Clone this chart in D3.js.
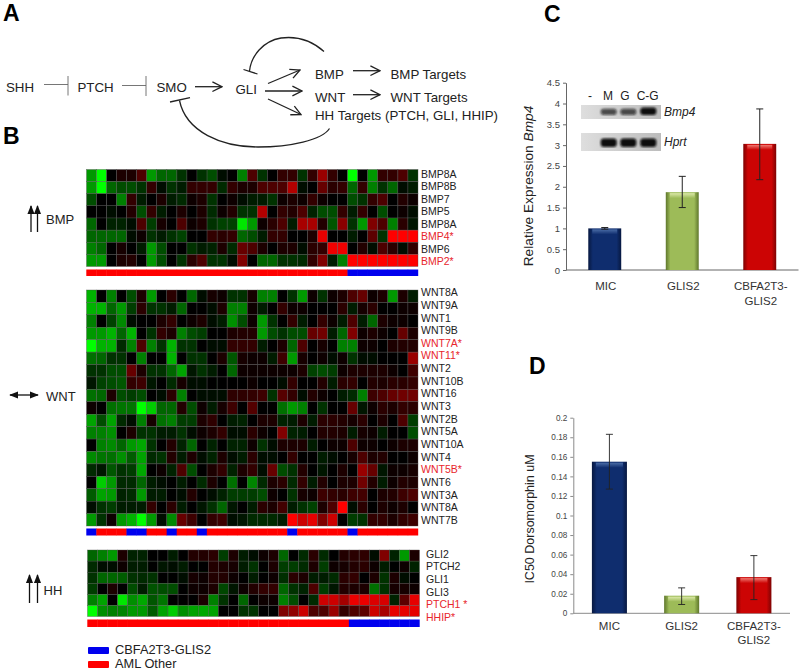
<!DOCTYPE html>
<html>
<head>
<meta charset="utf-8">
<script src="https://cdnjs.cloudflare.com/ajax/libs/d3/7.8.5/d3.min.js"></script>
<style>
  html, body { margin: 0; padding: 0; background: #fff; }
  svg { display: block; }
  text { font-family: "Liberation Sans", Arial, sans-serif; }
</style>
</head>
<body>
<svg id="fig" width="800" height="671"></svg>
<script>
// heatmap values, green is negative and red is positive
const bmpGenes = ["BMP8A","BMP8B","BMP7","BMP5","BMP8A","BMP4*","BMP6","BMP2*"]
const bmpValues = [
  [-3,-5,0,.5,.5,1.5,-3,-2,-2,-1,0,-1,-1.5,-.3,0,-2.5,1.5,-1,0,1,1,-1,1,3,1,0,-5,0,-3,1,1,1.5,-1],
  [-3,-5,-2,-1.5,-1.5,-1,1,-.3,-1,-.5,1,1,1,-.8,1,.5,.5,1.5,1.5,1.5,3.5,-.3,0,2,.8,1,-2,1,-2.5,-1,-2,-.2,-.5],
  [-1.5,0,0,-2.5,1,-.5,0,.5,-.5,-.8,.3,.5,-1,0,.3,-.3,-.5,-.5,-1,.3,.5,.3,1,.3,0,0,-1.5,-1,1,1.5,0,.7,.3],
  [0,0,-.2,0,.7,-1.5,1,-.5,0,.5,0,.5,-.8,.2,.7,-1,-1,3.5,0,1,.7,1.5,-.7,-1.5,-1.5,1,-.5,1,0,-1.5,0,.2,-.3],
  [-2,0,-.7,-.7,-.3,1.5,-1.2,.4,0,1.5,.2,.5,-1,-1.3,-1.3,-4.5,-3,.2,.8,1.5,-.5,3.3,3.3,.7,-1.7,2.7,-1,-3,2.5,1.5,-2.5,.8,-.4],
  [-2,-2,-2,-2,-.3,.2,-1,-.5,-1,-1.3,0,0,1,.8,1,-2,-1.5,-.5,1,1,0,0,.5,4.5,0,0,-.5,0,1.8,-1,5,5,5],
  [-2.5,-2,0,.4,0,-.5,-3,-1.5,0,0,-1,-.5,-.7,.5,-.8,2,1.5,.5,0,.5,.5,-.2,.8,1,4.7,4.7,0,.7,-.3,1.5,.8,-.2,1],
  [-3,-3,0,.5,.7,0,-3,-1.5,0,-1,.8,1.5,-1,-1,-.3,2.5,0,-2,-2,-1,-1,-.8,1,2.5,-.5,-2.5,5,5,5,5,5,5,5]
]
const wntGenes = ["WNT8A","WNT9A","WNT1","WNT9B","WNT7A*","WNT11*","WNT2","WNT10B","WNT16","WNT3","WNT2B","WNT5A","WNT10A","WNT4","WNT5B*","WNT6","WNT3A","WNT8A","WNT7B"]
const wntValues = [
  [-3.5,0,-2.5,0,-1.5,.5,-3,0,.8,0,-2,-.3,.4,.2,-1,-1,.4,-2.5,-2.5,0,-1,-3,.2,-1,.2,.6,1.5,2,.2,.5,-3,.5,-.5],
  [-3.5,-3.5,-2,-3,-1.2,.8,-1,-1,-.5,-2,0,0,-.3,.5,-2.5,-2.5,.3,-.5,0,1,.2,.3,0,0,0,.8,-.5,.4,.8,0,0,.3,.3],
  [-2.5,0,-1.3,-2.7,-.3,0,0,.5,1,0,.3,.5,-.3,-.5,-2.8,-1.5,.3,-3,-1,0,1,-.5,0,1,.2,-.5,1.5,-.5,-2,.6,.2,.2,0],
  [-3,-3,-3.5,-2,-3.5,0,-1,1,.5,-2.5,-1.5,-1.2,0,0,.5,.7,.7,-3,-1.5,-1,-1.5,-1.5,2,2.2,-.5,-2,2.5,.3,.6,.3,0,2,.5],
  [-5,-3.5,-3.5,-.8,-2.5,1.5,-2.5,-1,-3.5,-1,-1,0,-.2,-.2,1,1,1,-.6,0,.5,-2,1.5,0,.4,0,-2.5,-2.5,.2,.3,0,.6,.7,.7],
  [-2.2,-2,-1,-1,0,-2.5,0,0,-3.5,0,-1,-1,0,.6,-1.7,.4,.2,.2,-.5,1.2,-3,.4,0,.2,-.3,.2,-1,-.2,-.2,0,0,0,3],
  [-1,-1,-1.5,-1.5,2,.6,-1,-1,-2,-3.2,-.4,-1,-.5,0,-2,.3,.3,.2,.3,.3,.2,.5,-1.3,-1.5,-1.2,.2,.5,.5,.5,.5,.3,0,1.2],
  [-.4,-1.3,-1.5,-1.7,1,1.2,-.4,0,-.8,.4,-.2,-.2,-.1,0,.1,.1,.3,.1,0,-.3,1,0,.1,.7,-.5,.8,1,0,.7,.6,.8,.8,1],
  [-2.2,-2,.5,-1.5,-1.2,-1.5,0,-.3,.8,-2.5,0,-.3,-.3,-.2,.9,.9,1,1.2,-1,1.7,1,-.3,.7,.3,0,-.5,-.8,-2.5,1.2,1.5,2,2.2,2.2],
  [.2,0,-2.2,-2.3,-2.3,-5,-4,-2,-2,.7,-1.5,.3,-.5,.4,1.2,0,1.6,0,0,-2.2,-3,-2.5,0,-1,0,0,2,-.4,.3,.8,.5,1,.8],
  [-3.2,-1.5,-3.2,-.8,-.2,-2.5,.4,-2.2,-2.5,-1.2,-1.2,.5,.9,0,-.5,-.7,0,.5,.5,-.7,-.5,.5,-.5,.8,.8,.7,.4,.8,0,.6,.1,1.5,-1.2],
  [-2.5,-2.5,-2.8,0,.5,-1,-1,-.5,-.5,-1,-.2,.3,.5,1,-.3,-.3,.8,.2,0,2.5,-.7,-.5,0,.7,.7,.5,-.5,.4,.2,-.5,.1,0,-1.5],
  [0,-2.5,-2.7,-2,-3,-3.3,-1,0,.7,-.7,-2,0,-.7,0,-.7,-.7,.3,-1,-.3,.5,.5,.5,-.5,0,.2,.3,1.5,.3,.2,0,.2,.5,.5],
  [-2.7,-2.3,-2.2,-2.8,-1.8,-3.2,-.8,-1,.7,-.5,.5,-.3,-.7,.5,-.3,-.5,.8,-.2,-.2,-.1,1,0,0,-.5,-.2,0,.4,1.5,.5,.7,0,0,.3],
  [-.8,-.4,-1.7,-1,-1.2,-3.3,0,.2,-.7,1.5,-1.5,0,.6,1,-.7,.5,1,-.3,2,-1.5,-1,.7,0,-.4,0,.6,0,3,2,-.4,.2,.3,.4],
  [0,-4,-3,-.8,-.8,-2,-.5,-.3,0,-.5,0,-.8,.5,0,-2.2,0,-2.6,-.8,.5,.8,-.8,1,-.5,.7,.1,.5,.6,2.2,.7,-.5,.3,.7,.6],
  [-1.8,-3.2,-3,-.7,-.8,-3,-.5,-.5,0,-.3,.7,0,-.3,-.7,-1.2,-1.2,-1.2,-1.5,.3,0,-1,.4,.2,1.2,1,.8,1.2,1.3,0,.6,.7,1.2,1.5],
  [-.3,-1,-1.2,-.6,-.5,-.6,1,0,.8,-.6,0,-.4,-1,-2,-.4,0,-.6,.8,.5,1.3,-.5,-1,-1.3,.5,1.5,5,-.3,.8,0,.5,.3,.5,.1],
  [-3,-1,.3,-3,-3.5,-5,-3,-.2,-2.7,2,1.2,0,1,1.2,-.2,-.4,-.8,-.8,-.8,-.5,5,4,4.5,2.5,4,0,-1.2,-1,1,1,.6,1,1.2]
]
const hhGenes = ["GLI2","PTCH2","GLI1","GLI3","PTCH1 *","HHIP*"]
const hhValues = [
  [-2,-2.5,-3,.5,-.7,-.7,0,0,-.6,0,.7,.7,.8,-1.2,.6,-.6,-.2,.2,.5,-2,0,-.8,.8,-.8,0,.7,.8,.9,-.2,2.5,-.7,-3,.6],
  [-.8,-.3,-.2,.2,-.6,-.6,-.1,-.4,-.3,-.5,-.1,-.1,.7,.6,.4,-.6,-1,-.1,.5,-1.2,-1.2,-.8,.6,-1.2,.3,.4,.7,.8,.3,-.6,-.1,.3,-.7],
  [-1,-2,-2,-1.8,-1,-.8,-1,0,-.1,-.3,.4,.2,.7,.7,.3,.1,-.6,-.1,.2,-.9,.8,.5,-.6,-.5,-.8,.8,1,-.1,.6,-1,.6,-.2,0],
  [-1.2,0,.5,0,-1.5,-.6,-1.6,-1.5,-1.5,-.1,.3,.2,.6,-1.4,-.4,.2,.7,1,1,-2,-1,-.7,1.5,-1.2,-.4,.7,.6,.6,-2.2,-1,.4,.4,.3],
  [-2.5,-3.2,0,-4.5,-2.8,-3.3,-1.7,-2.3,0,.1,.1,.5,-2.5,-1,0,-2,.1,.3,.3,-2.5,-1.5,0,-.8,4,4,3.2,4.6,4.6,4.3,4.2,-.7,1.8,4.5],
  [-5,-2.8,-2.5,-2.6,-3,-3,-1.8,-3.2,-4,-2.8,-3.2,-3.3,-3.2,0,0,-1,-1,0,0,2.5,2.8,4,1.5,1.5,3,1,1.5,1.8,4,3.3,4.5,4.5,4.5]
]
// sample groups under each heatmap, 1 is CBFA2T3-GLIS2 and 0 is AML Other
const bmpGroups = [0,0,0,0,0,0,0,0,0,0,0,0,0,0,0,0,0,0,0,0,0,0,0,0,0,0,1,1,1,1,1,1,1]
const wntGroups = [1,0,0,0,1,1,0,0,1,0,0,1,0,0,0,0,0,0,0,0,1,0,0,0,0,0,1,0,0,0,0,0,0]
const hhGroups = [0,0,0,0,0,0,0,0,0,0,0,0,0,0,0,0,0,0,0,0,0,0,0,0,0,0,1,1,1,1,1,1,1]
const legendNames = ["CBFA2T3-GLIS2","AML Other"]

// bar panels
const barCats = ["MIC","GLIS2","CBFA2T3-GLIS2"]
const bmp4Expr = [1,1.87,3.03]
const bmp4Low = [.98,1.5,2.17]
const bmp4High = [1.02,2.25,3.87]
const bmp4Ticks = [0,.5,1,1.5,2,2.5,3,3.5,4,4.5]
const ic50 = [.155,.018,.037]
const ic50Low = [.127,.009,.014]
const ic50High = [.183,.026,.059]
const ic50Ticks = [0,.02,.04,.06,.08,.1,.12,.14,.16,.18,.2]
const gelLanes = ["-","M","G","C-G"]
const bmp4Bands = [0,.7,.7,1]
const hprtBands = [0,1,1,1]

const svg = d3.select('#fig')
const defs = svg.append('defs')
const nCols = 33

defs.append('filter').attr('id','soft')
  .append('feGaussianBlur').attr('stdDeviation',.35)
defs.append('filter').attr('id','gelblur')
  .append('feGaussianBlur').attr('stdDeviation',.8)

const marker = (id, filled) => {
  const m = defs.append('marker').attr('id',id)
    .attr('viewBox','0 0 10 10').attr('refX',9).attr('refY',5)
    .attr('markerUnits','userSpaceOnUse').attr('markerWidth',filled ? 9 : 12).attr('markerHeight',filled ? 9 : 12)
    .attr('orient','auto-start-reverse')
  if (filled) m.append('path').attr('d','M0,1L10,5L0,9Z').attr('fill','#111')
  else m.append('path').attr('d','M1,1L9,5L1,9').attr('fill','none').attr('stroke','#222').attr('stroke-width',1.1)
}
marker('open', false)
marker('solid', true)

// panel letters
const panelLetters = [["A",3,21],["B",3,144],["C",544,22],["D",529,374]]
svg.selectAll('.letter').data(panelLetters).enter().append('text')
  .attr('class','letter')
  .attr('x',d => d[1]).attr('y',d => d[2])
  .attr('font-size',23).attr('font-weight','bold').attr('fill','#000')
  .text(d => d[0])

// ---- panel A
const a = svg.append('g').attr('fill','none')
const paText = [["SHH",6,92],["PTCH",77.5,92],["SMO",156.5,92],["GLI",235.5,94],
  ["BMP",315,79],["BMP Targets",390.5,79],["WNT",315,102],["WNT Targets",390.5,102],
  ["HH Targets (PTCH, GLI, HHIP)",315,120]]
a.selectAll('text').data(paText).enter().append('text')
  .attr('x',d => d[1]).attr('y',d => d[2])
  .attr('font-size',13.3).attr('fill','#222').text(d => d[0])

const line = (g,x1,y1,x2,y2,w,col,mk) => {
  const l = g.append('line').attr('x1',x1).attr('y1',y1).attr('x2',x2).attr('y2',y2)
    .attr('stroke',col).attr('stroke-width',w)
  if (mk) l.attr('marker-end','url(#' + mk + ')')
  return l
}
// inhibition lines
line(a,44,84.5,68,84.5,.9,'#666'); line(a,68,76,68,95.5,.9,'#666')
line(a,122,85.5,146,85.5,.9,'#666'); line(a,146,76,146,96,.9,'#666')
// activation arrows
line(a,195,86.7,222,86.7,1.3,'#222','open')
line(a,268,83.5,300,70,1.3,'#222','open')
line(a,265,91,302,91,1.3,'#222','open')
line(a,268,99,301,114.5,1.3,'#222','open')
line(a,353,70.7,380,70.7,1.3,'#222','open')
line(a,353,94.7,380,94.7,1.3,'#222','open')
// feedback curves
a.append('path').attr('d','M324,51.5C311,40 296,36 281,38C263,41 251,56 249.5,71')
  .attr('stroke','#222').attr('stroke-width',1.3)
line(a,243.5,69.5,257.5,74,1.3,'#222')
a.append('path').attr('d','M329.5,128.5C322,140 290,147 258,147C222,147 186,132 179.5,100.5')
  .attr('stroke','#222').attr('stroke-width',1.3)
line(a,170,102,190,97.7,1.3,'#222')

// ---- panel B
const heatColor = d3.scaleLinear().domain([-5,0,5]).range(["#00ff00","#000000","#ff0000"])

const drawHeat = (values, genes, groups, box) => {
  const g = svg.append('g')
  const x = d3.scaleBand().domain(d3.range(nCols)).range([box.x0,box.x1])
  const y = d3.scaleBand().domain(d3.range(genes.length)).range([box.y0,box.y1])
  const labelY = d3.scalePoint().domain(d3.range(genes.length)).range([box.label0,box.label1])

  const rows = g.append('g').attr('filter','url(#soft)').selectAll('g').data(values).enter().append('g')
  rows.selectAll('rect').data((d,i) => d.map((v,j) => ({v:v,col:j,row:i}))).enter().append('rect')
    .attr('x',d => x(d.col)).attr('y',d => y(d.row))
    .attr('width',x.bandwidth()).attr('height',y.bandwidth())
    .attr('fill',d => heatColor(d.v))
    .attr('stroke','#555').attr('stroke-width',.4)

  g.selectAll('.gene').data(genes).enter().append('text')
    .attr('class','gene')
    .attr('x',box.labelX).attr('y',(d,i) => labelY(i)).attr('dy','.36em')
    .attr('font-size',10.5)
    .attr('fill',d => d.includes('*') ? '#e8262c' : '#222')
    .text(d => d)

  // group strip, one rect per sample so neighbours merge
  g.selectAll('.strip').data(groups).enter().append('rect')
    .attr('class','strip')
    .attr('x',(d,i) => x(i) - .2).attr('y',box.strip0)
    .attr('width',x.bandwidth() + .4).attr('height',box.strip1 - box.strip0)
    .attr('fill',d => d ? '#0000ee' : '#ff0000')
}

drawHeat(bmpValues, bmpGenes, bmpGroups, {x0:86.5,x1:418,y0:169.5,y1:266.5,labelX:421,label0:174,label1:261.5,strip0:269.5,strip1:276})
drawHeat(wntValues, wntGenes, wntGroups, {x0:86.5,x1:418,y0:290,y1:526,labelX:421,label0:292.5,label1:520,strip0:528.5,strip1:535.5})
drawHeat(hhValues, hhGenes, hhGroups, {x0:87.5,x1:419.5,y0:550,y1:616.5,labelX:426,label0:554,label1:617,strip0:619.5,strip1:627})

// left side direction arrows and names
line(svg,31,232,31,206,1.3,'#111','solid')
line(svg,37.5,232,37.5,206,1.3,'#111','solid')
line(svg,29.5,603,29.5,575,1.3,'#111','solid')
line(svg,37.5,603,37.5,575,1.3,'#111','solid')
line(svg,10,395,38,395,1.3,'#111','solid').attr('marker-start','url(#solid)')
const sideLabels = [["BMP",46,224],["WNT",46,401],["HH",43.5,595]]
svg.selectAll('.side').data(sideLabels).enter().append('text')
  .attr('class','side').attr('x',d => d[1]).attr('y',d => d[2])
  .attr('font-size',13).attr('fill','#222').text(d => d[0])

// legend
const legend = svg.selectAll('.lg').data(legendNames).enter().append('g').attr('class','lg')
  .attr('transform',(d,i) => 'translate(88,' + (647 + i * 14) + ')')
legend.append('rect').attr('width',21).attr('height',7).attr('rx',1)
  .attr('fill',(d,i) => i ? '#ff0000' : '#0000ee')
legend.append('text').attr('x',27).attr('y',7).attr('font-size',12.8).attr('fill','#222').text(d => d)

// ---- bar panels
const barStyle = [
  {id:'navy', edge:'#071840', mid:'#0f2d6e', top:'#4a6ca6'},
  {id:'lime', edge:'#5f772c', mid:'#9dbb58', top:'#dbe8a8'},
  {id:'crim', edge:'#7d0303', mid:'#cc0404', top:'#f07a72'}
]
barStyle.forEach(s => {
  const grad = defs.append('linearGradient').attr('id',s.id)
  grad.append('stop').attr('offset','0%').attr('stop-color',s.edge)
  grad.append('stop').attr('offset','14%').attr('stop-color',s.mid)
  grad.append('stop').attr('offset','86%').attr('stop-color',s.mid)
  grad.append('stop').attr('offset','100%').attr('stop-color',s.edge)
  const fade = defs.append('linearGradient').attr('id',s.id + 'Top').attr('x1',0).attr('x2',0).attr('y1',0).attr('y2',1)
  fade.append('stop').attr('offset','0%').attr('stop-color',s.top)
  fade.append('stop').attr('offset','100%').attr('stop-color',s.mid)
})

const drawBars = (values, low, high, ticks, opt) => {
  const g = svg.append('g')
  const x = d3.scaleBand().domain(barCats).range([opt.x0,opt.x1]).paddingInner(opt.pad).paddingOuter(opt.pad / 2)
  const y = d3.scaleLinear().domain([0,ticks[ticks.length - 1]]).range([opt.y0,opt.y1])

  const yAxis = d3.axisLeft(y).tickValues(ticks).tickFormat(d => d).tickSize(3).tickSizeOuter(0)
  const ax = g.append('g').attr('transform','translate(' + opt.x0 + ',0)').call(yAxis)
  ax.selectAll('text').attr('font-size',opt.tickFont).attr('fill','#444').style('font-family','"Liberation Sans", Arial, sans-serif')
  ax.selectAll('line,path').attr('stroke',opt.axisCol)
  g.append('line').attr('x1',opt.x0).attr('x2',opt.x1).attr('y1',opt.y0).attr('y2',opt.y0)
    .attr('stroke',opt.axisCol).attr('stroke-width',1)

  g.selectAll('.bar').data(values).enter().append('rect').attr('class','bar')
    .attr('x',(d,i) => x(barCats[i])).attr('y',d => y(d))
    .attr('width',x.bandwidth()).attr('height',d => opt.y0 - y(d))
    .attr('fill',(d,i) => 'url(#' + barStyle[i].id + ')')
  // lighter bevel along the top of each bar
  g.selectAll('.bevel').data(values).enter().append('rect').attr('class','bevel')
    .attr('x',(d,i) => x(barCats[i]) + 4).attr('y',d => y(d) + 1)
    .attr('width',x.bandwidth() - 8).attr('height',d => Math.min(5,opt.y0 - y(d) - 1))
    .attr('fill',(d,i) => 'url(#' + barStyle[i].id + 'Top)')

  const tick = 3.5
  values.forEach((d,i) => {
    const cx = x(barCats[i]) + x.bandwidth() / 2
    line(g,cx,y(low[i]),cx,y(high[i]),opt.errW,'#222')
    line(g,cx - tick,y(high[i]),cx + tick,y(high[i]),opt.errW,'#222')
    line(g,cx - tick,y(low[i]),cx + tick,y(low[i]),opt.errW,'#222')
  })

  // category names, the long one breaks after the hyphen
  barCats.forEach(c => {
    const cx = x(c) + x.bandwidth() / 2 + (opt.labelShift || 0)
    const parts = c.includes('-') ? [c.slice(0,c.indexOf('-') + 1), c.slice(c.indexOf('-') + 1)] : [c]
    parts.forEach((p,k) => {
      g.append('text').attr('x',cx).attr('y',opt.labelY + k * opt.labelStep).attr('text-anchor','middle')
        .attr('font-size',11.5).attr('fill','#333').text(p)
    })
  })
}

// panel C
drawBars(bmp4Expr, bmp4Low, bmp4High, bmp4Ticks,
  {x0:566,x1:798.5,y0:270,y1:82.7,pad:.575,tickFont:9.5,errW:1,labelY:289.5,labelStep:15,labelShift:1,axisCol:'#666'})
const titleC = svg.append('text').attr('transform','translate(533,186) rotate(-90)')
  .attr('text-anchor','middle').attr('font-size',13.7).attr('fill','#222')
titleC.append('tspan').text('Relative Expression ')
titleC.append('tspan').attr('font-style','italic').text('Bmp4')

// gel inset over panel C
const gel = svg.append('g')
const gelBack = defs.append('linearGradient').attr('id','gelBack')
gelBack.append('stop').attr('offset','0%').attr('stop-color','#dedede')
gelBack.append('stop').attr('offset','100%').attr('stop-color','#bcbcbc')
const laneCenters = d3.scaleOrdinal().domain(gelLanes).range([590,608.7,628.3,648.3])
const laneText = d3.scaleOrdinal().domain(gelLanes).range([590,608,625,647.7])
gel.selectAll('.lane').data(gelLanes).enter().append('text').attr('class','lane')
  .attr('x',d => laneText(d)).attr('y',100).attr('text-anchor','middle')
  .attr('font-size',12).attr('fill','#222').text(d => d)
const drawGel = (bands, top, h, bandTop, bandH, name) => {
  gel.append('rect').attr('x',581).attr('y',top).attr('width',80).attr('height',h).attr('fill','url(#gelBack)')
  gel.selectAll('.b' + name).data(bands).enter().append('rect').attr('class','b' + name)
    .attr('x',(d,i) => laneCenters(gelLanes[i]) - 8).attr('width',16)
    .attr('y',d => bandTop + (1 - d) * bandH * .5).attr('height',d => bandH * (.5 + .5 * d))
    .attr('rx',3)
    .attr('fill','#0a0a0a').attr('fill-opacity',d => d)
    .attr('filter','url(#gelblur)')
  gel.append('text').attr('x',664).attr('y',top + h / 2 + 4).attr('font-size',12)
    .attr('font-style','italic').attr('fill','#222').text(name)
}
drawGel(bmp4Bands,105,14,107.5,7.5,'Bmp4')
drawGel(hprtBands,133,18,138.5,8.5,'Hprt')

// panel D
drawBars(ic50, ic50Low, ic50High, ic50Ticks,
  {x0:573.3,x1:790,y0:613.3,y1:417.7,pad:.515,tickFont:8.2,errW:.9,labelY:630,labelStep:13.5,axisCol:'#8a8a8a'})
svg.append('text').attr('transform','translate(534,519) rotate(-90)')
  .attr('text-anchor','middle').attr('font-size',12.5).attr('fill','#222').text('IC50 Dorsomorphin uM')
</script>
</body>
</html>
